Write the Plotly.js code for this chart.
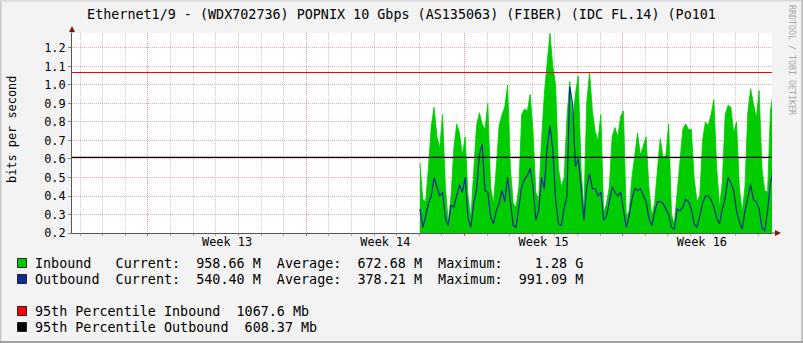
<!DOCTYPE html>
<html>
<head>
<meta charset="utf-8">
<script src="https://cdn.plot.ly/plotly-3.0.1.min.js"></script>
<style>
html,body{margin:0;padding:0;background:#f3f3f3;}
#chart{width:803px;height:343px;}
</style>
</head>
<body>
<div id="chart"></div>
<script>
// ---------- DATA ----------
const titleText = "Ethernet1/9 - (WDX702736) POPNIX 10 Gbps (AS135063) (FIBER) (IDC FL.14) (Po101";
const yAxisTitle = "bits per second";
const sideText = "RRDTOOL / TOBI OETIKER";

// x axis in days since start of Week 13
const weekStarts = [0, 7, 14, 21];
const weekLabelPos = [3.5, 10.5, 17.5, 24.5];
const weekLabels = ["Week 13", "Week 14", "Week 15", "Week 16"];
const xRange = [-3.36, 27.6];

const yTicks = [0.2, 0.3, 0.4, 0.5, 0.6, 0.7, 0.8, 0.9, 1.0, 1.1, 1.2];
const yRange = [0.2, 1.281];

// samples every 3 hours, starting at day 12.03 (values in Gbit/s)
const dataStartDay = 12.03;
const stepDays = 0.125;

const inbound = [
  0.58,0.38,0.37,0.55,0.78,0.88,0.72,0.66,0.84,0.45,0.26,0.40,0.66,0.79,0.74,0.62,
  0.72,0.40,0.28,0.55,0.78,0.85,0.79,0.76,0.90,0.45,0.36,0.55,0.78,0.84,0.88,
  1.00,0.55,0.36,0.34,0.45,0.84,0.87,0.86,0.95,0.75,0.42,0.38,0.70,0.95,1.12,1.28,
  1.10,1.00,0.55,0.45,0.50,0.82,1.02,0.80,0.95,1.05,0.55,0.32,0.90,1.07,0.86,
  0.75,0.70,0.84,0.31,0.36,0.45,0.72,0.77,0.72,0.83,0.86,0.29,0.32,0.50,0.62,0.74,
  0.62,0.67,0.72,0.45,0.29,0.36,0.55,0.71,0.61,0.62,0.79,0.30,0.25,0.42,0.60,
  0.76,0.79,0.76,0.76,0.50,0.37,0.40,0.70,0.80,0.78,0.84,0.92,0.55,0.34,0.48,0.84,
  0.89,0.88,0.74,0.80,0.45,0.31,0.45,0.85,0.98,0.90,0.82,0.97,0.55,0.43,0.42,0.86,0.96
];
const outbound = [
  0.33,0.23,0.29,0.36,0.40,0.50,0.45,0.40,0.42,0.28,0.24,0.35,0.34,0.40,0.46,0.42,
  0.50,0.28,0.23,0.36,0.43,0.62,0.68,0.43,0.42,0.29,0.25,0.32,0.36,0.43,0.37,
  0.50,0.36,0.24,0.23,0.35,0.45,0.49,0.51,0.55,0.45,0.27,0.32,0.50,0.44,0.66,0.78,
  0.65,0.38,0.25,0.24,0.33,0.40,0.99,0.90,0.56,0.60,0.45,0.27,0.45,0.52,0.44,
  0.44,0.40,0.42,0.27,0.29,0.37,0.45,0.42,0.40,0.42,0.32,0.23,0.29,0.38,0.44,0.43,
  0.44,0.40,0.37,0.28,0.24,0.31,0.37,0.37,0.36,0.33,0.30,0.23,0.22,0.33,0.32,
  0.34,0.38,0.37,0.33,0.25,0.23,0.29,0.36,0.40,0.40,0.38,0.34,0.28,0.25,0.33,0.39,
  0.50,0.47,0.43,0.32,0.26,0.22,0.32,0.40,0.46,0.38,0.37,0.33,0.23,0.21,0.32,0.47,0.54
];

const seriesNames = ["Inbound", "Outbound"];
const seriesColors = ["#00cc00", "#0b2b96"];
const currentVals = ["958.66 M", "540.40 M"];
const averageVals = ["672.68 M", "378.21 M"];
const maximumVals = ["1.28 G", "991.09 M"];

const pctNames = ["95th Percentile Inbound", "95th Percentile Outbound"];
const pctValues = [1.0676, 0.60837];           // Gbit/s
const pctLabels = ["1067.6 Mb", "608.37 Mb"];
const pctColors = ["#ff0000", "#000000"];

// ---------- BUILD ----------
const W = 803, H = 343;
const M = {l: 72, r: 31, t: 33, b: 110};
const PW = W - M.l - M.r, PH = H - M.t - M.b;
const px = v => (v - M.l) / PW;          // pixel x -> paper
const py = v => (M.t + PH - v) / PH;     // pixel y -> paper

const xs = inbound.map((_, i) => dataStartDay + i * stepDays);
const nb = s => s.replace(/ /g, "\u00a0");

const traces = [
  {x: xs, y: inbound, type: "scatter", mode: "lines", fill: "tozeroy",
   fillcolor: seriesColors[0], line: {color: seriesColors[0], width: 0.8}, hoverinfo: "skip", xaxis: "x", yaxis: "y"},
  {x: xs, y: outbound, type: "scatter", mode: "lines",
   line: {color: seriesColors[1], width: 1.2}, hoverinfo: "skip", xaxis: "x2", yaxis: "y"}
];

const mono = "DejaVu Sans Mono, monospace";
const shapes = [];
const annotations = [];

// percentile rules
pctValues.forEach((v, i) => {
  shapes.push({type: "line", xref: "paper", yref: "y", x0: 0, x1: 1, y0: v, y1: v,
               line: {color: pctColors[i], width: 1.2}, layer: "above"});
});

// axis extensions + arrows
shapes.push({type: "line", xref: "paper", yref: "paper", x0: 0, x1: 0, y0: 1, y1: py(30),
             line: {color: "#555", width: 1}});
shapes.push({type: "line", xref: "paper", yref: "paper", x0: 1, x1: px(776), y0: 0, y1: 0,
             line: {color: "#555", width: 1}});
shapes.push({type: "path", xref: "paper", yref: "paper",
             path: `M ${px(72)},${py(26)} L ${px(69)},${py(32)} L ${px(75)},${py(32)} Z`,
             fillcolor: "#7a1a1a", line: {width: 0}});
shapes.push({type: "path", xref: "paper", yref: "paper",
             path: `M ${px(781)},${py(233)} L ${px(775)},${py(230)} L ${px(775)},${py(236)} Z`,
             fillcolor: "#7a1a1a", line: {width: 0}});

// figure frame
shapes.push({type: "line", xref: "paper", yref: "paper", x0: px(0.5), x1: px(0.5), y0: py(0), y1: py(H),
             line: {color: "#c8c8c8", width: 2}});
shapes.push({type: "line", xref: "paper", yref: "paper", x0: px(0), x1: px(W), y0: py(0.5), y1: py(0.5),
             line: {color: "#d8d8d8", width: 2}});
shapes.push({type: "line", xref: "paper", yref: "paper", x0: px(W - 1), x1: px(W - 1), y0: py(0), y1: py(H),
             line: {color: "#c8c8c8", width: 2}});
shapes.push({type: "line", xref: "paper", yref: "paper", x0: px(0), x1: px(W), y0: py(H - 1), y1: py(H - 1),
             line: {color: "#a0a0a0", width: 2}});

// legend
const legendRows = [263, 279];
seriesNames.forEach((n, i) => {
  const yc = legendRows[i];
  shapes.push({type: "rect", xref: "paper", yref: "paper",
               x0: px(17.5), x1: px(26.5), y0: py(yc - 4.5), y1: py(yc + 4.5),
               fillcolor: seriesColors[i], line: {color: "#222", width: 1}});
  const txt = n.padEnd(10) + "Current:  " + currentVals[i].padStart(8) +
              "  Average:  " + averageVals[i].padStart(8) +
              "  Maximum:  " + maximumVals[i].padStart(8);
  annotations.push({xref: "paper", yref: "paper", x: px(33), y: py(yc), xanchor: "left", yanchor: "middle",
                    text: nb(txt), showarrow: false, font: {family: mono, size: 13.4, color: "#000"}});
});
const pctRows = [311, 327];
pctNames.forEach((n, i) => {
  const yc = pctRows[i];
  shapes.push({type: "rect", xref: "paper", yref: "paper",
               x0: px(17.5), x1: px(26.5), y0: py(yc - 4.5), y1: py(yc + 4.5),
               fillcolor: pctColors[i], line: {color: "#222", width: 1}});
  annotations.push({xref: "paper", yref: "paper", x: px(33), y: py(yc), xanchor: "left", yanchor: "middle",
                    text: nb(n + "  " + pctLabels[i]), showarrow: false,
                    font: {family: mono, size: 13.4, color: "#000"}});
});

// y title and side credit
annotations.push({xref: "paper", yref: "paper", x: px(12), y: py(130), xanchor: "center", yanchor: "middle",
                  text: yAxisTitle, textangle: -90, showarrow: false, font: {family: mono, size: 11.9, color: "#000"}});
annotations.push({xref: "paper", yref: "paper", x: px(792), y: py(60), xanchor: "center", yanchor: "middle",
                  text: nb(sideText), textangle: 90, showarrow: false, font: {family: mono, size: 8.3, color: "#a8a8a8"}});

const gridPink = "rgba(225,130,130,0.65)";
const layout = {
  width: W, height: H,
  margin: {l: M.l, r: M.r, t: M.t, b: M.b, pad: 0},
  paper_bgcolor: "#f3f3f3", plot_bgcolor: "#ffffff",
  font: {family: mono, size: 11.9, color: "#000"},
  showlegend: false,
  title: {text: nb(titleText), x: 0.5, xref: "container", xanchor: "center",
          y: 1 - 14 / H, yref: "container", yanchor: "middle", font: {family: mono, size: 13.4, color: "#000"}},
  xaxis: {range: xRange, tickmode: "array", tickvals: weekStarts, showticklabels: false,
          showgrid: true, gridcolor: gridPink, griddash: "1px,1px", gridwidth: 1,
          zeroline: false, showline: true, linecolor: "#555", linewidth: 1,
          ticks: "outside", ticklen: 2, tickcolor: "#b06060",
          minor: {dtick: 1, tick0: 0, showgrid: true, gridcolor: "#cccccc", griddash: "1px,1px",
                  ticks: "outside", ticklen: 2, tickcolor: "#aaaaaa"}},
  xaxis2: {overlaying: "x", anchor: "y", side: "bottom", range: xRange, tickmode: "array",
           tickvals: weekLabelPos, ticktext: weekLabels, showgrid: false, zeroline: false,
           ticks: "", showline: false, tickfont: {family: mono, size: 11.9, color: "#000"}},
  yaxis: {range: yRange, tickmode: "array", tickvals: yTicks, tickformat: ".1f", ticksuffix: " G",
          showgrid: true, gridcolor: gridPink, griddash: "1px,1px", gridwidth: 1,
          zeroline: false, showline: true, linecolor: "#555", linewidth: 1,
          ticks: "outside", ticklen: 3, tickcolor: "#888",
          tickfont: {family: mono, size: 11.9, color: "#000"}},
  shapes: shapes,
  annotations: annotations
};

Plotly.newPlot("chart", traces, layout, {displayModeBar: false, staticPlot: true});
</script>
</body>
</html>
